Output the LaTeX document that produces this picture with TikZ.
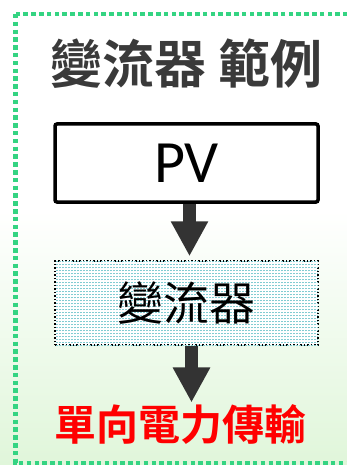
\documentclass[tikz,border=0pt]{standalone}
\usepackage{fontspec}
\usepackage{tikz}
\usetikzlibrary{arrows.meta,patterns.meta}
\setsansfont{Carlito}
\newfontfamily\cjk{Noto Sans CJK TC}[BoldFont={Noto Sans CJK TC Bold}]
\definecolor{framegreen}{RGB}{52,212,130}
\definecolor{bggreen}{RGB}{224,246,218}
\definecolor{stripe}{RGB}{130,204,210}
\definecolor{arrowgray}{RGB}{51,51,51}
\definecolor{titlegray}{RGB}{58,58,58}
\tikzstyle{edge}=[
	-{Triangle[width=35pt,length=35pt]},
	line width=13pt,
	draw=arrowgray
]
\tikzstyle{pvbox}=[
	draw=black,
	line width=3.5pt,
	rounded corners=2pt,
	fill=white,
	minimum width=263pt,
	minimum height=78pt,
	inner sep=0pt
]
\tikzstyle{convbox}=[
	draw=black,
	line width=1.5pt,
	dotted,
	fill=white,
	postaction={pattern={Lines[angle=90,distance=3pt,line width=2pt]},pattern color=stripe},
	minimum width=263pt,
	minimum height=84pt,
	inner sep=0pt
]

\begin{document}
\begin{tikzpicture}[x=1pt,y=-1pt]
\useasboundingbox (0,0) rectangle (347,465);
\clip (0,0) rectangle (347,465);
\fill[white] (0,0) rectangle (347,465);
\shade[top color=white,bottom color=bggreen] (0,210) rectangle (347,465);
\draw[framegreen,line width=4.5pt,dash pattern=on 4.5pt off 3.3pt] (15.5,14) rectangle (380,463);

\node[text=titlegray] (title) at (186.5,64) {\cjk\bfseries\fontsize{52}{52}\selectfont 變流器 範例};
\node[pvbox] (pv) at (186.5,163) {\sffamily\fontsize{60}{60}\selectfont PV};
\node[convbox] (conv) at (186.5,303) {};
\node (convtxt) at (186.5,303) {\cjk\fontsize{46}{46}\selectfont 變流器};
\node[text=red] (out) at (180,425) {\cjk\bfseries\fontsize{42}{42}\selectfont 單向電力傳輸};

\draw[edge,shorten >=4pt] ([xshift=3pt]pv.south) -- ([xshift=3pt]conv.north);
\draw[edge] ([xshift=5pt]conv.south) -- ([xshift=5pt,yshift=-1pt]conv.south |- out.north);

\end{tikzpicture}
\end{document}
